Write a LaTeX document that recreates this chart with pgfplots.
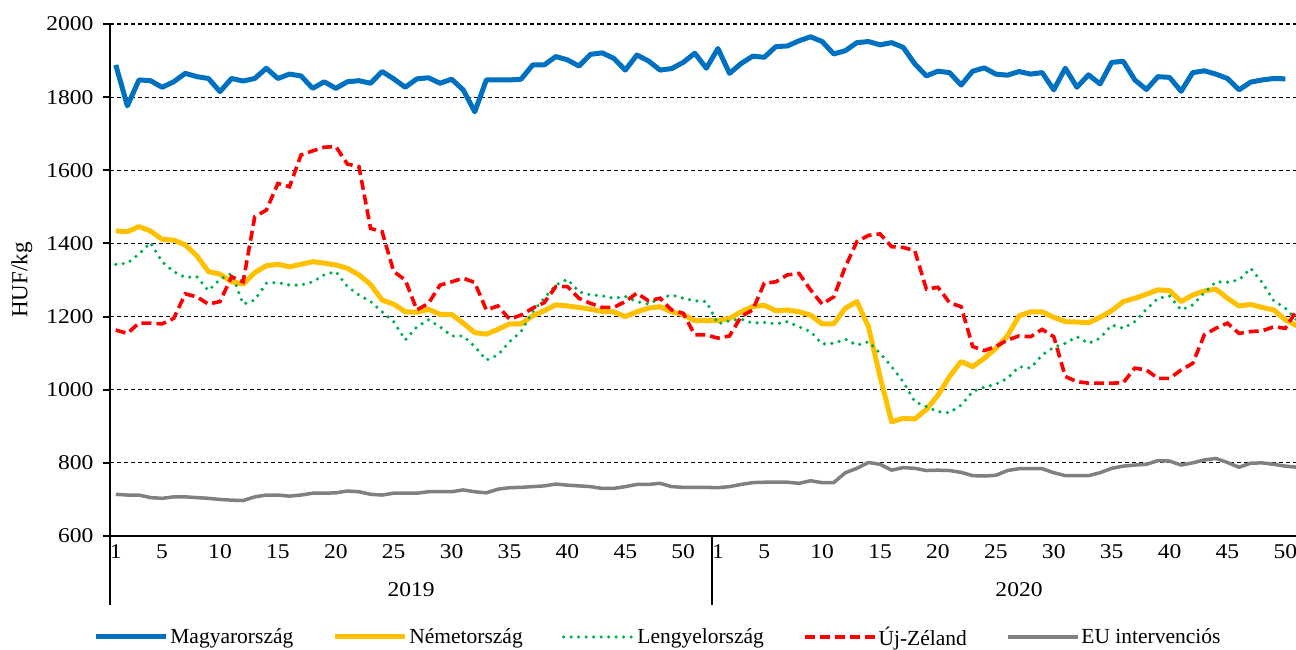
\documentclass[border=0pt]{standalone}
\usepackage{fontspec}
\setmainfont{Liberation Serif}
\newfontfamily\tickfont[FakeStretch=1.12]{Liberation Serif}
\usepackage{pgfplots}
\usepackage{pgfplotstable}
\pgfplotsset{compat=1.18}
\definecolor{cblue}{HTML}{0070C0}
\definecolor{cyellow}{HTML}{FFC000}
\definecolor{cgreen}{HTML}{00B050}
\definecolor{cred}{HTML}{FF0000}
\definecolor{cgray}{HTML}{808080}

% x: 2019 week k -> k-0.5 ; 2020 week k -> 51.5+k
\pgfplotstableread{
x y
0.5 1888
1.5 1776
2.5 1847
3.5 1845
4.5 1827
5.5 1842
6.5 1865
7.5 1856
8.5 1851
9.5 1815
10.5 1851
11.5 1844
12.5 1851
13.5 1879
14.5 1851
15.5 1863
16.5 1858
17.5 1824
18.5 1842
19.5 1824
20.5 1842
21.5 1845
22.5 1838
23.5 1870
24.5 1850
25.5 1827
26.5 1850
27.5 1853
28.5 1838
29.5 1849
30.5 1820
31.5 1760
32.5 1847
33.5 1847
34.5 1847
35.5 1849
36.5 1888
37.5 1888
38.5 1911
39.5 1902
40.5 1885
41.5 1917
42.5 1921
43.5 1906
44.5 1874
45.5 1915
46.5 1899
47.5 1874
48.5 1878
49.5 1895
50.5 1920
51.5 1879
52.5 1933
53.5 1865
54.5 1892
55.5 1912
56.5 1909
57.5 1938
58.5 1940
59.5 1954
60.5 1965
61.5 1952
62.5 1918
63.5 1927
64.5 1949
65.5 1952
66.5 1943
67.5 1949
68.5 1936
69.5 1891
70.5 1858
71.5 1871
72.5 1867
73.5 1833
74.5 1871
75.5 1880
76.5 1863
77.5 1860
78.5 1870
79.5 1863
80.5 1867
81.5 1820
82.5 1879
83.5 1827
84.5 1861
85.5 1836
86.5 1895
87.5 1898
88.5 1847
89.5 1821
90.5 1856
91.5 1854
92.5 1816
93.5 1867
94.5 1872
95.5 1863
96.5 1851
97.5 1820
98.5 1841
99.5 1847
100.5 1851
101.5 1850
}\hun

\pgfplotstableread{
x y
0.5 1434
1.5 1432
2.5 1446
3.5 1434
4.5 1411
5.5 1409
6.5 1396
7.5 1366
8.5 1323
9.5 1316
10.5 1295
11.5 1289
12.5 1320
13.5 1339
14.5 1343
15.5 1336
16.5 1343
17.5 1350
18.5 1346
19.5 1341
20.5 1332
21.5 1314
22.5 1288
23.5 1245
24.5 1234
25.5 1213
26.5 1212
27.5 1220
28.5 1206
29.5 1206
30.5 1182
31.5 1156
32.5 1152
33.5 1165
34.5 1180
35.5 1180
36.5 1202
37.5 1216
38.5 1232
39.5 1229
40.5 1225
41.5 1220
42.5 1214
43.5 1213
44.5 1200
45.5 1213
46.5 1223
47.5 1227
48.5 1213
49.5 1205
50.5 1189
51.5 1189
52.5 1189
53.5 1195
54.5 1213
55.5 1227
56.5 1231
57.5 1216
58.5 1218
59.5 1213
60.5 1204
61.5 1180
62.5 1180
63.5 1223
64.5 1241
65.5 1172
66.5 1035
67.5 912
68.5 922
69.5 920
70.5 946
71.5 985
72.5 1036
73.5 1077
74.5 1063
75.5 1086
76.5 1113
77.5 1147
78.5 1202
79.5 1213
80.5 1213
81.5 1198
82.5 1186
83.5 1185
84.5 1183
85.5 1198
86.5 1216
87.5 1241
88.5 1250
89.5 1261
90.5 1273
91.5 1271
92.5 1241
93.5 1259
94.5 1270
95.5 1275
96.5 1250
97.5 1229
98.5 1233
99.5 1225
100.5 1218
101.5 1191
102.5 1175
}\ger

\pgfplotstableread{
x y
0.5 1343
1.5 1346
2.5 1371
3.5 1402
4.5 1350
5.5 1323
6.5 1307
7.5 1309
8.5 1271
9.5 1302
10.5 1318
11.5 1234
12.5 1245
13.5 1291
14.5 1293
15.5 1286
16.5 1286
17.5 1295
18.5 1314
19.5 1323
20.5 1282
21.5 1259
22.5 1241
23.5 1213
24.5 1186
25.5 1136
26.5 1172
27.5 1191
28.5 1172
29.5 1147
30.5 1147
31.5 1118
32.5 1081
33.5 1095
34.5 1131
35.5 1159
36.5 1213
37.5 1250
38.5 1286
39.5 1302
40.5 1268
41.5 1259
42.5 1257
43.5 1250
44.5 1255
45.5 1241
46.5 1234
47.5 1250
48.5 1259
49.5 1250
50.5 1243
51.5 1241
52.5 1180
53.5 1189
54.5 1193
55.5 1182
56.5 1184
57.5 1180
58.5 1186
59.5 1172
60.5 1159
61.5 1125
62.5 1127
63.5 1138
64.5 1122
65.5 1131
66.5 1100
67.5 1063
68.5 1022
69.5 967
70.5 954
71.5 940
72.5 937
73.5 958
74.5 995
75.5 1007
76.5 1015
77.5 1031
78.5 1063
79.5 1059
80.5 1095
81.5 1116
82.5 1127
83.5 1145
84.5 1127
85.5 1141
86.5 1177
87.5 1168
88.5 1186
89.5 1220
90.5 1250
91.5 1256
92.5 1218
93.5 1232
94.5 1265
95.5 1295
96.5 1294
97.5 1300
98.5 1332
99.5 1293
100.5 1243
101.5 1223
102.5 1190
}\pol

\pgfplotstableread{
x y
0.5 1163
1.5 1154
2.5 1182
3.5 1182
4.5 1180
5.5 1195
6.5 1262
7.5 1254
8.5 1234
9.5 1241
10.5 1309
11.5 1295
12.5 1473
13.5 1491
14.5 1564
15.5 1555
16.5 1642
17.5 1653
18.5 1663
19.5 1665
20.5 1617
21.5 1610
22.5 1441
23.5 1432
24.5 1323
25.5 1300
26.5 1218
27.5 1236
28.5 1286
29.5 1295
30.5 1305
31.5 1293
32.5 1218
33.5 1229
34.5 1193
35.5 1204
36.5 1223
37.5 1238
38.5 1282
39.5 1282
40.5 1250
41.5 1236
42.5 1225
43.5 1225
44.5 1241
45.5 1264
46.5 1243
47.5 1250
48.5 1218
49.5 1209
50.5 1150
51.5 1150
52.5 1141
53.5 1147
54.5 1200
55.5 1218
56.5 1291
57.5 1295
58.5 1314
59.5 1318
60.5 1273
61.5 1234
62.5 1254
63.5 1336
64.5 1405
65.5 1422
66.5 1426
67.5 1391
68.5 1389
69.5 1380
70.5 1275
71.5 1280
72.5 1238
73.5 1227
74.5 1118
75.5 1107
76.5 1118
77.5 1136
78.5 1147
79.5 1145
80.5 1165
81.5 1145
82.5 1036
83.5 1022
84.5 1018
85.5 1018
86.5 1018
87.5 1019
88.5 1059
89.5 1054
90.5 1031
91.5 1031
92.5 1054
93.5 1072
94.5 1150
95.5 1168
96.5 1182
97.5 1154
98.5 1159
99.5 1161
100.5 1172
101.5 1168
102.5 1218
}\nzl

\pgfplotstableread{
x y
0.5 714
1.5 712
2.5 712
3.5 705
4.5 703
5.5 707
6.5 707
7.5 705
8.5 703
9.5 700
10.5 698
11.5 697
12.5 707
13.5 712
14.5 712
15.5 709
16.5 712
17.5 717
18.5 717
19.5 718
20.5 723
21.5 721
22.5 714
23.5 712
24.5 717
25.5 717
26.5 717
27.5 721
28.5 721
29.5 721
30.5 726
31.5 721
32.5 718
33.5 728
34.5 732
35.5 733
36.5 735
37.5 737
38.5 742
39.5 739
40.5 737
41.5 735
42.5 730
43.5 730
44.5 735
45.5 741
46.5 741
47.5 744
48.5 735
49.5 733
50.5 733
51.5 733
52.5 732
53.5 735
54.5 741
55.5 746
56.5 747
57.5 747
58.5 747
59.5 744
60.5 751
61.5 746
62.5 746
63.5 773
64.5 785
65.5 801
66.5 796
67.5 780
68.5 787
69.5 785
70.5 779
71.5 780
72.5 779
73.5 774
74.5 765
75.5 764
76.5 766
77.5 779
78.5 784
79.5 784
80.5 784
81.5 773
82.5 765
83.5 765
84.5 765
85.5 773
86.5 785
87.5 791
88.5 794
89.5 796
90.5 806
91.5 805
92.5 794
93.5 800
94.5 808
95.5 812
96.5 801
97.5 788
98.5 799
99.5 800
100.5 796
101.5 791
102.5 788
}\eui

\begin{document}
\begin{tikzpicture}
\begin{axis}[
  at={(110pt,114pt)}, anchor=south west,
  scale only axis, width=1186pt, height=512pt,
  xmin=0, xmax=102.42, ymin=600, ymax=2000,
  clip mode=individual,
  axis lines=left,
  axis line style={-, line width=2pt, black},
  tick align=outside,
  xtick={0.5,4.5,9.5,14.5,19.5,24.5,29.5,34.5,39.5,44.5,49.5,52.5,56.5,61.5,66.5,71.5,76.5,81.5,86.5,91.5,96.5,101.5},
  xticklabels={1,5,10,15,20,25,30,35,40,45,50,1,5,10,15,20,25,30,35,40,45,50},
  x tick style={draw=none},
  xticklabel style={font=\tickfont\fontsize{21}{25}\selectfont, anchor=north, yshift=2pt},
  ytick={600,800,...,2000},
  y tick style={line width=2pt, black},
  major tick length=7pt,
  yticklabel style={font=\tickfont\fontsize{21}{25}\selectfont, anchor=east, xshift=-6pt},
  /pgf/number format/assume math mode=true,
  /pgf/number format/1000 sep={},
  ymajorgrids,
  grid style={black, line width=1.1pt, dash pattern=on 4pt off 3pt},
  ylabel={HUF/kg},
  ylabel style={font=\fontsize{23}{27}\selectfont, at={(axis description cs:-0.0742,0.5)}, anchor=center},
  legend columns=5,
  legend style={draw=none, fill=none, at={(axis description cs:0.462,0)}, anchor=center, yshift=-101pt,
    font=\fontsize{21.5}{25}\selectfont, column sep=0pt,
    /tikz/every even column/.append style={column sep=37pt}},
  legend image code/.code={\draw[#1] (0pt,0pt) -- (70pt,0pt);},
]
\addplot[cblue, line width=5pt, line join=round] table {\hun};
\addlegendentry{Magyarország}
\addplot[cyellow, line width=5pt, line join=round] table {\ger};
\addlegendentry{Németország}
\addplot[cgreen, line width=3.6pt, line cap=round, dash pattern=on 0pt off 7.5pt] table {\pol};
\addlegendentry{Lengyelország}
\addplot[cred, line width=3.6pt, dash pattern=on 10pt off 5pt] table {\nzl};
\addlegendentry{Új-Zéland}
\addplot[cgray, line width=3.5pt, line join=round] table {\eui};
\addlegendentry{EU intervenciós}
\draw[line width=2pt] (axis cs:0,600) -- ++(0pt,-69pt);
\draw[line width=2pt] (axis cs:52,600) -- ++(0pt,-69pt);
\node[font=\tickfont\fontsize{21}{25}\selectfont] at ([yshift=-54pt]axis cs:26,600) {2019};
\node[font=\tickfont\fontsize{21}{25}\selectfont] at ([yshift=-54pt]axis cs:78.5,600) {2020};
\end{axis}
\pgfresetboundingbox
\path[use as bounding box] (0pt,0pt) rectangle (1296pt,650pt);
\end{tikzpicture}
\end{document}
